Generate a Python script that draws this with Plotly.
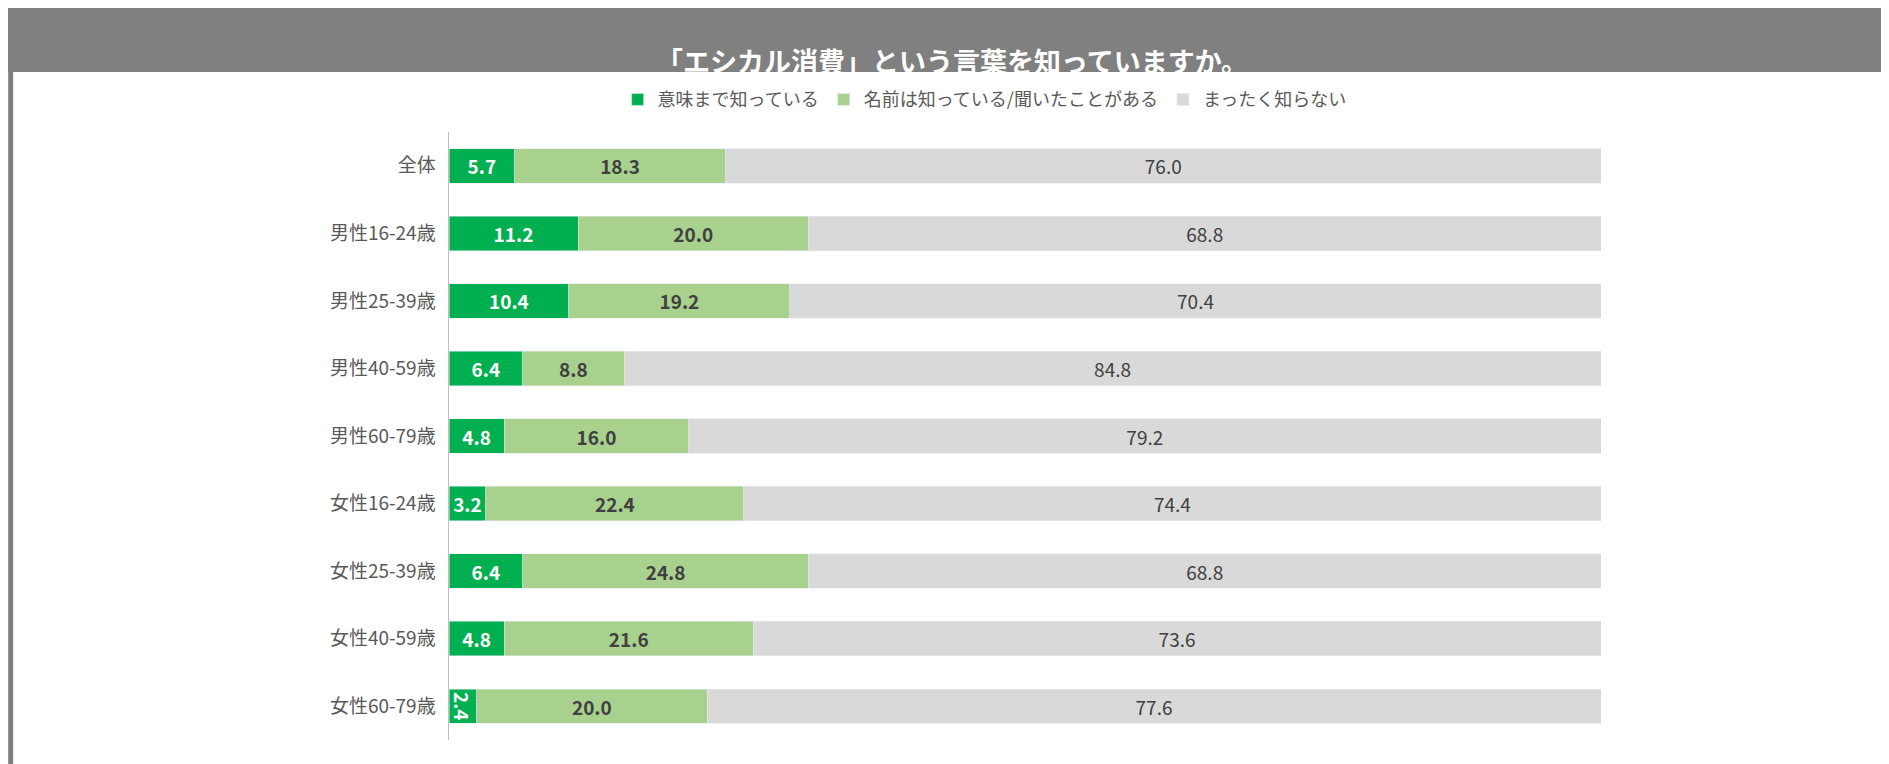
import plotly.graph_objects as go

groups = ['全体', '男性16-24歳', '男性25-39歳', '男性40-59歳', '男性60-79歳',
          '女性16-24歳', '女性25-39歳', '女性40-59歳', '女性60-79歳']
know_meaning = [5.7, 11.2, 10.4, 6.4, 4.8, 3.2, 6.4, 4.8, 2.4]
know_name = [18.3, 20.0, 19.2, 8.8, 16.0, 22.4, 24.8, 21.6, 20.0]
not_know = [76.0, 68.8, 70.4, 84.8, 79.2, 74.4, 68.8, 73.6, 77.6]
series_names = ['意味まで知っている', '名前は知っている/聞いたことがある', 'まったく知らない']

font = 'Noto Sans CJK JP'
colors = ['#00b050', '#a9d18e', '#d9d9d9']
label_fonts = [dict(color='white', size=19, family=font, weight='bold'),
               dict(color='#404040', size=19, family=font, weight='bold'),
               dict(color='#404040', size=19, family=font)]

fig = go.Figure()
for name, vals, c, lf in zip(series_names, [know_meaning, know_name, not_know], colors, label_fonts):
    fig.add_trace(go.Bar(y=groups, x=vals, name=name, orientation='h',
                         marker_color=c, text=[f'{v:.1f}' for v in vals],
                         textposition='inside', insidetextanchor='middle',
                         textfont=lf, constraintext='none', cliponaxis=False))

fig.update_layout(
    width=1889, height=764, barmode='stack', bargap=0.49,
    paper_bgcolor='white', plot_bgcolor='white',
    font=dict(family=font, color='#595959', size=19),
    margin=dict(l=441, r=296, t=124, b=32),
    xaxis=dict(range=[0, 100], visible=False),
    yaxis=dict(autorange='reversed', showline=True, linecolor='#bfbfbf',
               linewidth=1, ticks='', ticksuffix='  ', showgrid=False),
    legend=dict(orientation='h', xref='container', yref='container',
                x=0.517, y=0.88, xanchor='center', yanchor='middle',
                font=dict(size=18, color='#595959'), traceorder='normal'),
    shapes=[
        dict(type='rect', xref='paper', yref='paper', x0=-0.383, x1=1.257,
             y0=1.0 + 60/608, y1=1.0 + 124/608, fillcolor='#808080',
             line_width=0, layer='below'),
    ],
    annotations=[
        dict(text='「エシカル消費」という言葉を知っていますか。', xref='paper',
             yref='paper', x=0.437, y=1 + 93/608, showarrow=False,
             font=dict(size=27, color='white', family=font, weight='bold')),
    ],
)
fig.add_shape(type='rect', xref='paper', yref='paper', x0=-0.3805, x1=1.2545,
              y0=-0.049, y1=1.0 + 122/608, line=dict(color='#808080', width=5),
              fillcolor='rgba(0,0,0,0)')

fig.write_html('out.html')
